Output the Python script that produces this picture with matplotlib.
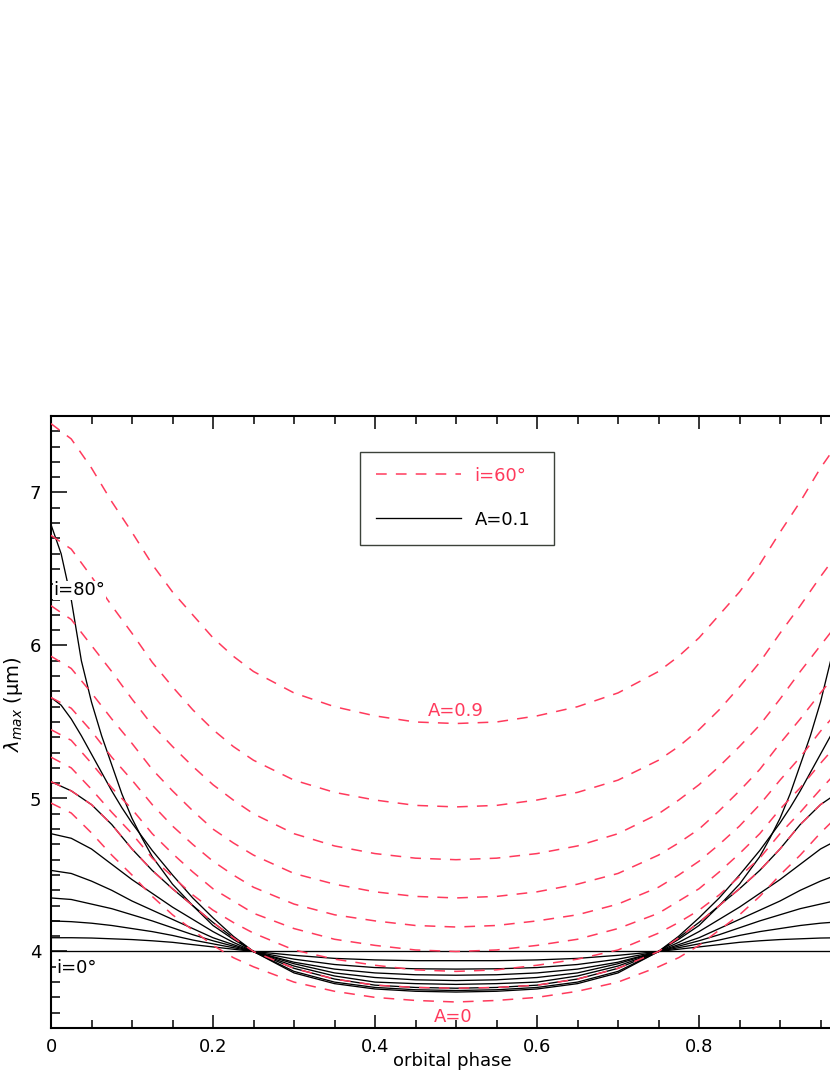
import matplotlib.pyplot as plt
from matplotlib.patches import Rectangle
from matplotlib.ticker import MultipleLocator

# orbital phase grid on which the curves were read
phase = [0, .025, .05, .075, .1, .125, .15, .175, .2, .225, .25, .3, .35, .4, .45, .5,
         .55, .6, .65, .7, .75, .775, .8, .825, .85, .875, .9, .925, .95, .975, 1.0]
# finer grid used for the two steepest black curves
phase_steep = [0, .0125, .025, .0375, .05, .0625, .075, .0875, .1, .1125, .125, .15, .175, .2, .225, .25,
               .3, .35, .4, .45, .5, .55, .6, .65, .7,
               .75, .775, .8, .825, .85, .875, .8875, .9, .9125, .925, .9375, .95, .9625, .975, .9875, 1.0]

# i=60 deg, different albedo A (top to bottom)
red_a09 = [7.45, 7.35, 7.16, 6.94, 6.74, 6.53, 6.35, 6.20, 6.05, 5.93, 5.83, 5.69, 5.60, 5.54, 5.50, 5.49,
           5.50, 5.54, 5.60, 5.69, 5.83, 5.93, 6.05, 6.20, 6.35, 6.53, 6.74, 6.94, 7.16, 7.35, 7.45]
red_2 = [6.72, 6.63, 6.45, 6.26, 6.08, 5.89, 5.73, 5.58, 5.45, 5.34, 5.25, 5.12, 5.04, 4.99, 4.955, 4.945,
         4.955, 4.99, 5.04, 5.12, 5.25, 5.34, 5.45, 5.58, 5.73, 5.89, 6.08, 6.26, 6.45, 6.63, 6.72]
red_3 = [6.26, 6.17, 6.00, 5.83, 5.65, 5.48, 5.34, 5.21, 5.09, 4.99, 4.90, 4.77, 4.69, 4.64, 4.61, 4.60,
         4.61, 4.64, 4.69, 4.77, 4.90, 4.99, 5.09, 5.21, 5.34, 5.48, 5.65, 5.83, 6.00, 6.17, 6.26]
red_4 = [5.93, 5.85, 5.69, 5.52, 5.36, 5.19, 5.05, 4.92, 4.80, 4.71, 4.63, 4.51, 4.44, 4.39, 4.36, 4.35,
         4.36, 4.39, 4.44, 4.51, 4.63, 4.71, 4.80, 4.92, 5.05, 5.19, 5.36, 5.52, 5.69, 5.85, 5.93]
red_5 = [5.66, 5.59, 5.44, 5.27, 5.12, 4.96, 4.82, 4.70, 4.59, 4.50, 4.42, 4.31, 4.24, 4.20, 4.17, 4.16,
         4.17, 4.20, 4.24, 4.31, 4.42, 4.50, 4.59, 4.70, 4.82, 4.96, 5.12, 5.27, 5.44, 5.59, 5.66]
red_6 = [5.45, 5.38, 5.23, 5.07, 4.93, 4.77, 4.64, 4.52, 4.41, 4.33, 4.25, 4.15, 4.08, 4.04, 4.01, 4.00,
         4.01, 4.04, 4.08, 4.15, 4.25, 4.33, 4.41, 4.52, 4.64, 4.77, 4.93, 5.07, 5.23, 5.38, 5.45]
red_7 = [5.27, 5.20, 5.06, 4.91, 4.77, 4.61, 4.49, 4.37, 4.27, 4.19, 4.12, 4.01, 3.95, 3.91, 3.88, 3.87,
         3.88, 3.91, 3.95, 4.01, 4.12, 4.19, 4.27, 4.37, 4.49, 4.61, 4.77, 4.91, 5.06, 5.20, 5.27]
red_a01 = [5.11, 5.05, 4.96, 4.83, 4.67, 4.53, 4.41, 4.30, 4.19, 4.09, 4.00, 3.89, 3.82, 3.78, 3.765, 3.76,
           3.765, 3.78, 3.82, 3.89, 4.00, 4.09, 4.19, 4.30, 4.41, 4.53, 4.67, 4.83, 4.96, 5.05, 5.11]
red_a0 = [4.97, 4.905, 4.775, 4.63, 4.50, 4.36, 4.24, 4.14, 4.04, 3.96, 3.90, 3.80, 3.74, 3.70, 3.68, 3.67,
          3.68, 3.70, 3.74, 3.80, 3.90, 3.96, 4.04, 4.14, 4.24, 4.36, 4.50, 4.63, 4.775, 4.905, 4.97]
red_curves = [red_a09, red_2, red_3, red_4, red_5, red_6, red_7, red_a01, red_a0]

# A=0.1, inclination i = 0..60 deg (on phase grid)
blk_i0 = [4.0] * 31
blk_i10 = [4.09, 4.09, 4.088, 4.083, 4.078, 4.07, 4.06, 4.045, 4.03, 4.015, 4.0, 3.975, 3.955, 3.945, 3.94, 3.94,
           3.94, 3.945, 3.955, 3.975, 4.0, 4.015, 4.03, 4.045, 4.06, 4.07, 4.078, 4.083, 4.088, 4.09, 4.09]
blk_i20 = [4.20, 4.195, 4.185, 4.17, 4.15, 4.13, 4.105, 4.075, 4.05, 4.025, 4.0, 3.95, 3.915, 3.895, 3.887, 3.885,
           3.887, 3.895, 3.915, 3.95, 4.0, 4.025, 4.05, 4.075, 4.105, 4.13, 4.15, 4.17, 4.185, 4.195, 4.20]
blk_i30 = [4.35, 4.34, 4.31, 4.28, 4.24, 4.20, 4.155, 4.11, 4.07, 4.035, 4.0, 3.93, 3.885, 3.86, 3.848, 3.845,
           3.848, 3.86, 3.885, 3.93, 4.0, 4.035, 4.07, 4.11, 4.155, 4.20, 4.24, 4.28, 4.31, 4.34, 4.35]
blk_i40 = [4.53, 4.51, 4.46, 4.40, 4.33, 4.27, 4.21, 4.15, 4.09, 4.045, 4.0, 3.92, 3.86, 3.83, 3.815, 3.81,
           3.815, 3.83, 3.86, 3.92, 4.0, 4.045, 4.09, 4.15, 4.21, 4.27, 4.33, 4.40, 4.46, 4.51, 4.53]
blk_i50 = [4.77, 4.74, 4.67, 4.57, 4.47, 4.38, 4.29, 4.21, 4.13, 4.06, 4.0, 3.905, 3.84, 3.80, 3.79, 3.785,
           3.79, 3.80, 3.84, 3.905, 4.0, 4.06, 4.13, 4.21, 4.29, 4.38, 4.47, 4.57, 4.67, 4.74, 4.77]
blk_i60 = [5.11, 5.05, 4.96, 4.83, 4.67, 4.53, 4.41, 4.30, 4.19, 4.09, 4.00, 3.89, 3.82, 3.78, 3.765, 3.76,
           3.765, 3.78, 3.82, 3.89, 4.00, 4.09, 4.19, 4.30, 4.41, 4.53, 4.67, 4.83, 4.96, 5.05, 5.11]
black_curves = [blk_i0, blk_i10, blk_i20, blk_i30, blk_i40, blk_i50, blk_i60]

# i = 70 and 80 deg (on phase_steep grid)
blk_i70 = [5.66, 5.61, 5.52, 5.41, 5.29, 5.17, 5.05, 4.94, 4.84, 4.75, 4.66, 4.50, 4.35, 4.22, 4.10, 4.0,
           3.87, 3.80, 3.765, 3.75, 3.745, 3.75, 3.765, 3.80, 3.87,
           4.0, 4.10, 4.22, 4.35, 4.50, 4.66, 4.75, 4.84, 4.94, 5.05, 5.17, 5.29, 5.41, 5.52, 5.61, 5.66]
blk_i80 = [6.79, 6.60, 6.30, 5.90, 5.63, 5.41, 5.22, 5.03, 4.87, 4.74, 4.62, 4.44, 4.30, 4.17, 4.08, 4.0,
           3.86, 3.79, 3.755, 3.74, 3.735, 3.74, 3.755, 3.79, 3.86,
           4.0, 4.08, 4.17, 4.30, 4.44, 4.62, 4.74, 4.87, 5.03, 5.22, 5.41, 5.63, 5.90, 6.30, 6.60, 6.79]
steep_curves = [blk_i70, blk_i80]

RED = '#ff3a5c'

plt.rcParams['font.family'] = 'DejaVu Sans'
fig = plt.figure(figsize=(8.3, 10.75), dpi=100)
# axes runs past the right edge of the figure, as in the original crop
ax = fig.add_axes([51 / 830, 47 / 1075, 810 / 830, 612 / 1075])

for k, y in enumerate(black_curves):
    ax.plot(phase, y, color='black', lw=0.95,
            label='A=0.1' if k == 0 else None, zorder=2)
for y in steep_curves:
    ax.plot(phase_steep, y, color='black', lw=0.95, zorder=2)
for k, y in enumerate(red_curves):
    ax.plot(phase, y, color=RED, lw=1.1, dashes=(7, 6),
            label='i=60°' if k == 0 else None, zorder=3)

ax.set_xlim(0, 1)
ax.set_ylim(3.5, 7.5)
ax.xaxis.set_major_locator(MultipleLocator(0.2))
ax.xaxis.set_minor_locator(MultipleLocator(0.05))
ax.yaxis.set_major_locator(MultipleLocator(1))
ax.yaxis.set_minor_locator(MultipleLocator(0.1))
ax.set_xticks([0, 0.2, 0.4, 0.6, 0.8])
ax.set_xticklabels(['0', '0.2', '0.4', '0.6', '0.8'])
ax.tick_params(which='both', direction='in', top=True, right=True, width=1.1,
               labelsize=13, pad=7)
ax.tick_params(axis='x', which='major', length=9.5)
ax.tick_params(axis='x', which='minor', length=5.5)
ax.tick_params(axis='y', which='major', length=11.5)
ax.tick_params(axis='y', which='minor', length=6.5)
for s in ax.spines.values():
    s.set_linewidth(1.5)

ax.set_xlabel('orbital phase', fontsize=13, va='top')
ax.xaxis.set_label_coords(0.495, -0.040)
ax.set_ylabel(r'$\lambda_{max}$ (μm)', fontsize=14, va='center')
ax.yaxis.set_label_coords(-0.046, 0.53)

# curve annotations
ax.text(0.003, 6.36, 'i=80°', fontsize=13, va='center', ha='left',
        bbox=dict(facecolor='white', edgecolor='none', pad=0.5), zorder=5)
ax.text(0.007, 3.89, 'i=0°', fontsize=13, va='center', ha='left',
        bbox=dict(facecolor='white', edgecolor='none', pad=0.5), zorder=5)
ax.text(0.5, 5.57, 'A=0.9', fontsize=13, color=RED, ha='center', va='center')
ax.text(0.497, 3.575, 'A=0', fontsize=13, color=RED, ha='center', va='center')

# legend entries, with the wide square frame drawn separately
leg = ax.legend(loc='upper left', bbox_to_anchor=(0.3835, 0.941), borderaxespad=0,
                fontsize=13, handlelength=4.7, handletextpad=0.75, labelspacing=1.45,
                borderpad=0.8, frameon=False, labelcolor='linecolor', reverse=True)
ax.add_patch(Rectangle(((360 - 51) / 810, (1028 - 545) / 612), 194 / 810, 93 / 612,
                       transform=ax.transAxes, fill=False, edgecolor='#3c423a',
                       lw=1.0, zorder=6))

fig.savefig('out.png', dpi=100, facecolor='white')
